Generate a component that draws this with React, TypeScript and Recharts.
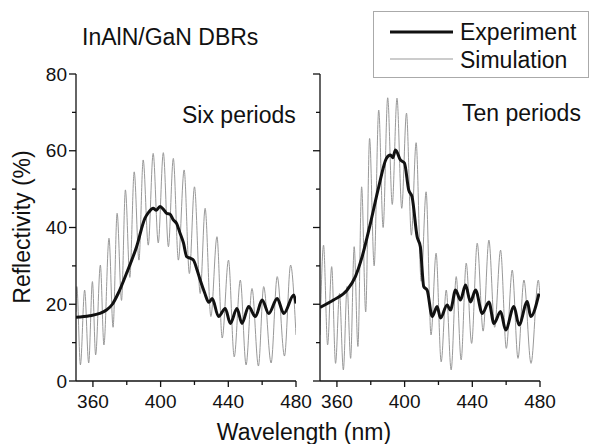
import { LineChart, Line, XAxis, YAxis } from "recharts";

// Six periods panel
const SIX_SIM_NM = [
  350, 350.5, 352.6, 355.1, 357.5, 359.7, 361.6, 364.4, 366.5, 369.5, 371.9, 374.3, 376.9, 379.2, 381.8,
  384.4, 387.2, 389.7, 392.7, 395.6, 398.6, 401.6, 404.6, 407.5, 410.5, 413.9, 417, 420, 423.4,
  426.3, 429.7, 433.3, 436.4, 440.1, 443.5, 447.1, 450.5, 454, 457.8, 460.9, 465.3, 468.9, 473.2,
  476.8, 480,
];
const SIX_SIM_R = [
  18, 24.6, 4.2, 23.7, 4.7, 25.9, 6.8, 30.2, 9.4, 37.2, 14, 43.7, 21, 49.8, 27,
  54.5, 31.5, 57.6, 35.4, 59.3, 36, 59.5, 35, 58, 31.5, 55, 28, 50.6, 22.8,
  45, 16.8, 37.6, 11.2, 31.5, 6.3, 26.3, 4.2, 24.1, 3.9, 24.6, 4.7, 27.2, 6.5,
  30.2, 12,
];
const SIX_EXP_NM = [
  350, 358, 364, 368, 371.5, 374.9, 379.8, 385.8, 390.7, 393, 395.6, 397.5, 399.6, 401.5, 403.6,
  405.5, 407.5, 409.5, 411.5, 413.5, 415.4, 417.5, 419.4, 421.5, 423.4, 426, 428.5, 430.5, 434.2,
  438.2, 441.2, 445.1, 448.1, 452, 456, 460, 463.9, 468.9, 472.8, 478.7, 480,
];
const SIX_EXP_R = [
  16.6, 17, 17.6, 18.5, 20, 22.8, 28, 35, 42.4, 44, 45, 44.5, 45.5, 44.8, 43.7,
  43.5, 42, 41, 38.5, 36, 32.4, 32, 31.5, 29, 26.3, 23, 20.5, 21.5, 16.8,
  18.9, 15, 18.9, 15, 19.4, 16.8, 21.1, 17.6, 21.5, 17.6, 22.4, 20.2,
];

// Ten periods panel
const TEN_SIM_NM = [
  350, 352.1, 354.5, 356.9, 359.2, 361.5, 363.8, 366, 368.1, 370.2, 372.4, 374.6, 377, 379.3, 382,
  384.7, 387.3, 390, 392.7, 395.5, 398.3, 401.1, 404, 406.8, 409.8, 412.7, 415.6, 418.6, 421.6,
  424.6, 427.5, 430.5, 433.4, 436.4, 439.6, 442.9, 446.4, 449.8, 453.2, 456.7, 460.1, 463.6, 467,
  470.5, 474.7, 479, 480,
];
const TEN_SIM_R = [
  12, 35.4, 9.4, 29.8, 4.6, 22.8, 2.9, 24.6, 5.9, 35, 9, 50.6, 18, 63.2, 30,
  70.6, 40, 73.8, 46, 73.7, 45, 69.8, 38, 62.1, 26, 49.3, 12, 33.3, 5,
  23.7, 2.9, 27.2, 5.5, 30.7, 9.8, 35.9, 13, 36.7, 14, 34.1, 8.5, 28.9, 5.9,
  26.3, 4.6, 26.3, 22,
];
const TEN_EXP_NM = [
  350, 358, 366, 370.9, 374.9, 379.8, 384.7, 389.2, 391.6, 393, 394.6, 397.5, 399.9, 402.4, 404.4,
  407.4, 409.3, 411.3, 413.3, 416.3, 419.2, 421.2, 425.1, 427.1, 430.1, 433, 436, 438.9, 441.9,
  445.9, 449.8, 452.8, 456.7, 459.7, 464.6, 467.6, 472.5, 474.5, 479.4,
];
const TEN_EXP_R = [
  19.2, 21.1, 23.7, 27.2, 32.4, 41.1, 50.6, 58, 58.9, 58.2, 60.2, 57.6, 56.8, 49.8, 48,
  37.6, 35, 24.6, 23.7, 16.8, 19.4, 16.4, 19.8, 18.5, 23.7, 21.1, 25, 20.6, 23.7,
  17.6, 20.6, 15, 18.1, 13.3, 19.4, 14.6, 20.7, 16.8, 22.8,
];

const X_TICKS = [360, 380, 400, 420, 440, 460, 480];
const Y_TICKS = [0, 10, 20, 30, 40, 50, 60, 70, 80];

const INK = "#111";
const SIM = "#999";
const FONT = "'Liberation Sans', Arial, sans-serif";

const toPoints = (nm: number[], r: number[]) => nm.map((w, i) => ({ nm: w, r: r[i] }));

const YTick = (props: any) => {
  const { x, y, payload, showLabel } = props;
  const major = payload.value % 20 === 0;
  const len = major ? 7 : 4;
  return (
    <g>
      <line x1={x - len} x2={x} y1={y} y2={y} stroke={INK} strokeWidth={1.3} />
      {showLabel && major && (
        <text x={x - len - 2} y={y} textAnchor="end" dominantBaseline="central" fontSize={19} fill={INK} fontFamily={FONT}>
          {payload.value}
        </text>
      )}
    </g>
  );
};

const XTick = (props: any) => {
  const { x, y, payload } = props;
  const major = payload.value % 40 === 0;
  const len = major ? 6 : 4;
  return (
    <g>
      <line x1={x} x2={x} y1={y} y2={y + len} stroke={INK} strokeWidth={1.3} />
      {major && (
        <text x={x} y={y + 20} textAnchor="middle" dominantBaseline="central" fontSize={19} fill={INK} fontFamily={FONT}>
          {payload.value}
        </text>
      )}
    </g>
  );
};

function Panel({ sim, exp, yWidth, showLabels, width, marginRight }: any) {
  return (
    <LineChart width={width} height={444} margin={{ top: 74, right: marginRight, bottom: 0, left: 0 }}>
      <XAxis
        type="number"
        dataKey="nm"
        domain={[350, 480]}
        ticks={X_TICKS}
        interval={0}
        height={63}
        tickSize={0}
        tickMargin={0}
        tickLine={false}
        axisLine={{ stroke: INK, strokeWidth: 1.3 }}
        tick={(p: any) => <XTick {...p} />}
        allowDataOverflow
      />
      <YAxis
        type="number"
        domain={[0, 80]}
        ticks={Y_TICKS}
        interval={0}
        width={yWidth}
        tickSize={0}
        tickMargin={0}
        tickLine={false}
        axisLine={{ stroke: INK, strokeWidth: 1.3 }}
        tick={(p: any) => <YTick {...p} showLabel={showLabels} />}
        allowDataOverflow
      />
      <Line data={sim} dataKey="r" type="monotone" stroke={SIM} strokeWidth={1} dot={false} isAnimationActive={false} />
      <Line data={exp} dataKey="r" type="monotone" stroke={INK} strokeWidth={3} dot={false} isAnimationActive={false} />
    </LineChart>
  );
}

export default function App() {
  const sixSim = toPoints(SIX_SIM_NM, SIX_SIM_R);
  const sixExp = toPoints(SIX_EXP_NM, SIX_EXP_R);
  const tenSim = toPoints(TEN_SIM_NM, TEN_SIM_R);
  const tenExp = toPoints(TEN_EXP_NM, TEN_EXP_R);
  const txt = { fontFamily: FONT, fill: INK, fontSize: 23 };

  return (
    <div style={{ position: "absolute", left: 0, top: 0, width: 589, height: 444, background: "#fff", overflow: "hidden" }}>
      <div style={{ position: "absolute", left: 0, top: 0 }}>
        <Panel sim={sixSim} exp={sixExp} yWidth={76} showLabels width={320} marginRight={24} />
      </div>
      <div style={{ position: "absolute", left: 300, top: 0 }}>
        <Panel sim={tenSim} exp={tenExp} yWidth={20} showLabels={false} width={289} marginRight={49} />
      </div>
      <svg width={589} height={444} style={{ position: "absolute", left: 0, top: 0, pointerEvents: "none" }}>
        <text x={82} y={37} dominantBaseline="central" {...txt}>InAlN/GaN DBRs</text>
        <text x={182} y={115} dominantBaseline="central" {...txt}>Six periods</text>
        <text x={462} y={113} dominantBaseline="central" {...txt}>Ten periods</text>
        <text x={304} y={432} textAnchor="middle" dominantBaseline="central" {...txt}>Wavelength (nm)</text>
        <text
          x={22}
          y={227}
          textAnchor="middle"
          dominantBaseline="central"
          transform="rotate(-90 22 227)"
          {...txt}
        >
          Reflectivity (%)
        </text>
        <rect x={373.5} y={11.5} width={215} height={66} fill="#fff" stroke="#aaa" strokeWidth={1} />
        <line x1={390} x2={453} y1={32} y2={32} stroke={INK} strokeWidth={3} />
        <text x={460} y={32} dominantBaseline="central" {...txt}>Experiment</text>
        <line x1={390} x2={453} y1={59} y2={59} stroke={SIM} strokeWidth={1} />
        <text x={460} y={60} dominantBaseline="central" {...txt}>Simulation</text>
      </svg>
    </div>
  );
}
